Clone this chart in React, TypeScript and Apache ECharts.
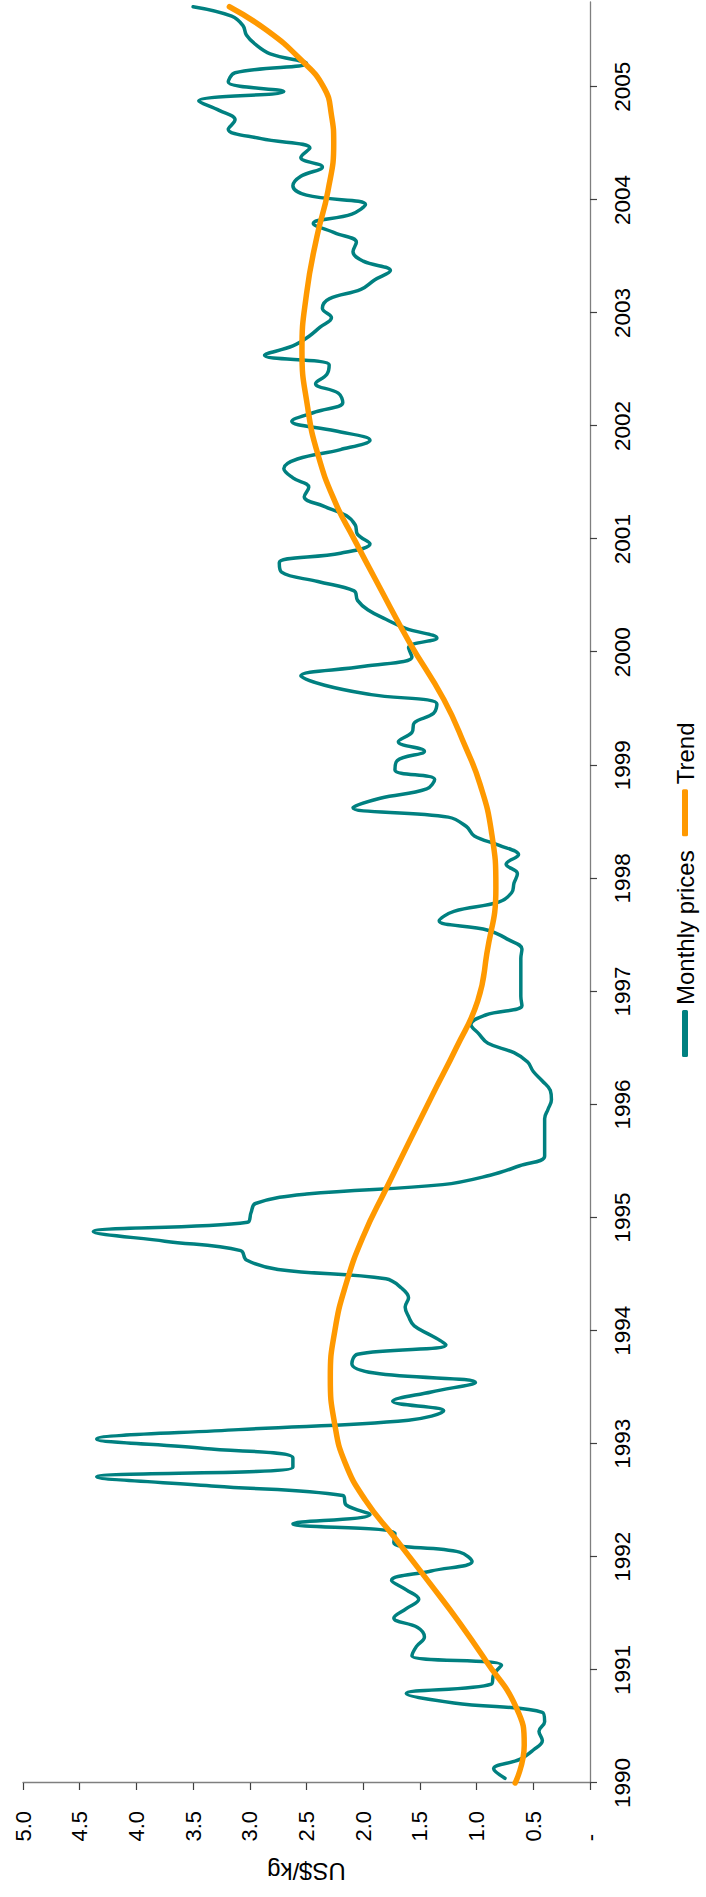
import React, { useEffect, useRef } from 'react';
import * as echarts from 'echarts';

// Year tick labels (category boundaries on the time axis)
const yearTicks = [1990, 1991, 1992, 1993, 1994, 1995, 1996, 1997, 1998, 1999, 2000, 2001, 2002, 2003, 2004, 2005];

// Monthly prices, US$/kg (Jan .. Dec of each year)
const prices1990 = [0.75, 0.85, 0.62, 0.5, 0.42, 0.45, 0.4, 0.42, 1.2, 1.62, 0.87, 0.85];
const prices1991 = [0.78, 1.57, 1.53, 1.46, 1.52, 1.73, 1.62, 1.51, 1.62, 1.75, 1.4, 1.04];
const prices1992 = [1.15, 1.73, 1.72, 2.62, 1.94, 2.15, 2.18, 3.3, 4.35, 2.62, 2.62, 3.4];
const prices1993 = [4.35, 3.1, 1.6, 1.29, 1.74, 1.4, 1.01, 1.9, 2.1, 2.05, 1.27, 1.4];
const prices1994 = [1.55, 1.6, 1.63, 1.6, 1.66, 1.8, 2.75, 3.03, 3.08, 3.75, 4.38, 3.02];
const prices1995 = [2.99, 2.95, 2.5, 1.3, 0.88, 0.62, 0.4, 0.4, 0.4, 0.4, 0.4, 0.37];
const prices1996 = [0.34, 0.35, 0.42, 0.5, 0.55, 0.67, 0.9, 0.98, 1.05, 0.92, 0.6, 0.61];
const prices1997 = [0.61, 0.61, 0.61, 0.61, 0.6, 0.72, 0.9, 1.33, 1.2, 0.8, 0.69, 0.67];
const prices1998 = [0.64, 0.74, 0.63, 0.8, 1.02, 1.09, 1.25, 2.09, 1.85, 1.44, 1.37, 1.72];
const prices1999 = [1.7, 1.46, 1.69, 1.57, 1.55, 1.38, 1.35, 1.93, 2.34, 2.55, 1.99, 1.57];
const prices2000 = [1.6, 1.35, 1.62, 1.8, 1.96, 2.05, 2.08, 2.4, 2.72, 2.74, 2.2, 1.94];
const prices2001 = [2.05, 2.07, 2.15, 2.35, 2.52, 2.48, 2.62, 2.7, 2.58, 2.2, 1.94, 2.25];
const prices2002 = [2.63, 2.42, 2.18, 2.22, 2.42, 2.32, 2.3, 2.87, 2.62, 2.48, 2.38, 2.28];
const prices2003 = [2.36, 2.3, 2.02, 1.9, 1.76, 2.0, 2.09, 2.06, 2.25, 2.44, 2.1, 1.98];
const prices2004 = [2.5, 2.62, 2.55, 2.36, 2.55, 2.47, 2.9, 3.19, 3.13, 3.27, 3.45, 2.7];
const prices2005 = [3.19, 3.13, 2.5, 2.82, 2.95, 3.03, 3.06, 3.16, 3.5];

// Trend curve, read at month offsets from Jan 1990 (turning points included)
const trendMonths = [0, 4, 8, 13, 17, 21, 26, 30, 34, 38, 43, 48, 53, 58, 63, 73, 78, 83, 88, 95, 101, 106, 110, 115, 121, 127, 132, 136, 141, 146, 152, 158, 164, 169, 174, 177, 180, 183, 186, 188.5];
const trendValues = [0.66, 0.58, 0.65, 0.92, 1.15, 1.4, 1.72, 1.98, 2.16, 2.25, 2.29, 2.25, 2.15, 2.0, 1.8, 1.39, 1.18, 0.99, 0.91, 0.83, 0.87, 0.97, 1.1, 1.29, 1.59, 1.86, 2.08, 2.25, 2.4, 2.49, 2.54, 2.5, 2.41, 2.31, 2.26, 2.28, 2.35, 2.56, 2.85, 3.18];

const seriesNames = ['Monthly prices', 'Trend'];
const seriesColors = ['#008080', '#FF9900'];

const monthlyPrices = [
  ...prices1990, ...prices1991, ...prices1992, ...prices1993, ...prices1994, ...prices1995,
  ...prices1996, ...prices1997, ...prices1998, ...prices1999, ...prices2000, ...prices2001,
  ...prices2002, ...prices2003, ...prices2004, ...prices2005,
];

export default function App() {
  const ref = useRef<HTMLDivElement>(null);

  useEffect(() => {
    if (!ref.current) return;
    const chart = echarts.init(ref.current, null, { renderer: 'svg' });
    const font = '"Liberation Sans", Arial, Helvetica, sans-serif';
    const tickMonths = yearTicks.map((y) => (y - 1990) * 12);
    const axisColor = '#7F7F7F';

    chart.setOption({
      animation: false,
      backgroundColor: '#ffffff',
      textStyle: { fontFamily: font, color: '#000' },
      grid: { left: 114, right: 2, top: 23, bottom: 116, containLabel: false },
      legend: {
        data: seriesNames,
        left: 835,
        top: 668,
        orient: 'horizontal',
        icon: 'roundRect',
        itemWidth: 47,
        itemHeight: 6,
        itemGap: 14,
        textStyle: { fontFamily: font, fontSize: 24, color: '#000' },
      },
      xAxis: {
        type: 'value',
        min: 0,
        max: 189,
        interval: 12,
        axisLine: { show: true, onZero: false, lineStyle: { color: axisColor, width: 1.3 } },
        axisTick: { show: true, length: 7, customValues: tickMonths, lineStyle: { color: '#404040', width: 1.2 } },
        axisLabel: {
          customValues: tickMonths,
          formatter: (v: number) => (v % 12 === 0 ? String(1990 + v / 12) : ''),
          margin: 21,
          fontSize: 22.5,
          color: '#000',
          fontFamily: font,
          hideOverlap: false,
        },
        splitLine: { show: false },
      },
      yAxis: {
        type: 'value',
        min: 0,
        max: 5,
        interval: 0.5,
        name: 'US$/kg',
        nameLocation: 'middle',
        nameGap: 76,
        nameRotate: 90,
        nameTextStyle: { fontSize: 24, color: '#000', fontFamily: font },
        axisLine: { show: true, lineStyle: { color: axisColor, width: 1.3 } },
        axisTick: { show: true, length: 7, lineStyle: { color: '#404040', width: 1.2 } },
        axisLabel: {
          margin: 28,
          fontSize: 22,
          color: '#000',
          fontFamily: font,
          formatter: (v: number) => (v === 0 ? '{z|-}' : v.toFixed(1)),
          rich: { z: { padding: [0, 23, 0, 0], fontSize: 22, color: '#000', fontFamily: font } },
        },
        splitLine: { show: false },
      },
      series: [
        {
          name: seriesNames[0],
          type: 'line',
          data: monthlyPrices.map((v, i) => [i + 0.5, v]),
          smooth: 0.4,
          showSymbol: false,
          symbol: 'none',
          lineStyle: { color: seriesColors[0], width: 3.5, cap: 'round', join: 'round' },
          itemStyle: { color: seriesColors[0] },
          z: 2,
        },
        {
          name: seriesNames[1],
          type: 'line',
          data: trendMonths.map((m, i) => [m, trendValues[i]]),
          smooth: 0.5,
          showSymbol: false,
          symbol: 'none',
          lineStyle: { color: seriesColors[1], width: 5.5, cap: 'round', join: 'round' },
          itemStyle: { color: seriesColors[1] },
          z: 3,
        },
      ],
    });

    return () => chart.dispose();
  }, []);

  return (
    <div style={{ position: 'absolute', left: 0, top: 0, width: 706, height: 1897, overflow: 'hidden', background: '#fff' }}>
      <div
        ref={ref}
        style={{
          position: 'absolute',
          left: 0,
          top: 0,
          width: 1897,
          height: 706,
          transform: 'translate(0px, 1897px) rotate(-90deg)',
          transformOrigin: '0 0',
        }}
      />
    </div>
  );
}
